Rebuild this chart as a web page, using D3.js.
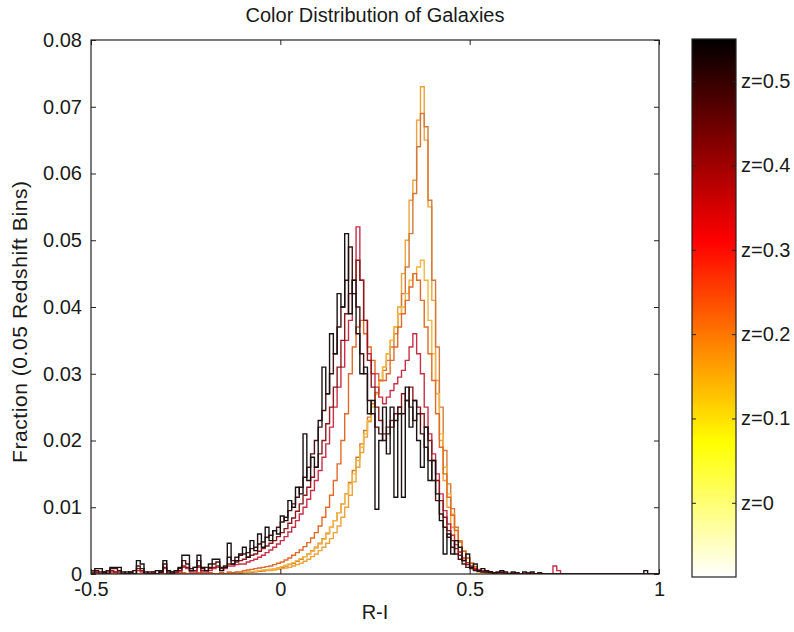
<!DOCTYPE html>
<html>
<head>
<meta charset="utf-8">
<script src="https://cdn.jsdelivr.net/npm/d3@7"></script>
<style>
  body { margin: 0; background: #fff; }
  svg { display: block; }
  text { font-family: "Liberation Sans", Arial, Helvetica, sans-serif; fill: #1a1a1a; }
</style>
</head>
<body>
<svg id="chart" width="794" height="632"></svg>
<script>
// Histogram bins: 0.01 wide in R-I, starting at -0.50 (150 bins up to 1.00)
const binStart = -0.5;
const binWidth = 0.01;

// Axis tick values
const xTicks = [-0.5, 0, 0.5, 1];
const yTicks = [0, 0.01, 0.02, 0.03, 0.04, 0.05, 0.06, 0.07, 0.08];

// Colorbar: redshift range and labelled ticks
const zRange = [-0.088, 0.55];
const zTicks = [0, 0.1, 0.2, 0.3, 0.4, 0.5];
const zLabels = ["z=0", "z=0.1", "z=0.2", "z=0.3", "z=0.4", "z=0.5"];

// Line colour of each redshift slice (low z first, drawn first)
const seriesColors = ["#eea23a", "#d27a3c", "#f0b840", "#e06a2a", "#c8304a", "#8c1a1c", "#4a1414", "#1a1212"];

// Fraction of galaxies per R-I bin, one array per 0.05 redshift slice
const sliceA = [
  0,0,0,0,0,0,0,0,0,0,
  0,0,0,0,0,0,0,0,0,0,
  0,0,0,0,0,0,0,0,0,0,
  0,0,0,0,0,0,0,0,.0002,0,
  .0002,.0002,.0003,.0003,.0004,.0004,.0005,.0005,.0006,.0007,
  .0008,.0009,.0010,.0012,.0014,.0016,.0019,.0022,.0026,.0030,
  .0035,.0040,.0046,.0053,.0062,.0072,.0085,.0100,.0118,.0138,
  .0160,.0182,.0205,.0228,.0250,.0270,.0290,.0310,.0330,.0350,
  .0370,.0400,.0450,.0500,.0560,.0590,.0680,.0730,.0650,.0550,
  .0410,.0290,.0200,.0140,.0100,.0070,.0050,.0033,.0021,.0015,
  .0010,.0006,.0003,.0002,.0001,0,0,.0002,0,0,
  0,0,0,0,0,0,0,0,0,0,
  0,0,0,0,0,0,0,0,0,0,
  0,0,0,0,0,0,0,0,0,0,
  0,0,0,0,0,0,0,0,0,0
];
const sliceB = [
  0,0,0,0,0,0,0,0,0,0,
  0,0,0,0,0,0,0,0,0,0,
  0,0,0,0,0,0,0,0,0,0,
  0,0,0,0,.0002,0,0,0,.0002,0,
  .0002,.0003,.0003,.0004,.0004,.0005,.0006,.0007,.0008,.0009,
  .0010,.0012,.0014,.0016,.0019,.0022,.0026,.0030,.0035,.0040,
  .0046,.0053,.0061,.0070,.0080,.0092,.0105,.0120,.0137,.0155,
  .0175,.0195,.0215,.0235,.0255,.0272,.0290,.0305,.0320,.0340,
  .0360,.0390,.0420,.0460,.0510,.0570,.0640,.0690,.0670,.0560,
  .0440,.0340,.0250,.0185,.0135,.0098,.0070,.0050,.0034,.0024,
  .0016,.0010,.0006,.0004,.0003,.0002,.0002,.0001,.0002,0,
  0,.0002,0,0,0,0,.0002,0,0,0,
  0,0,0,0,0,0,0,0,0,0,
  0,0,0,0,0,0,0,0,0,0,
  0,0,0,0,0,0,0,0,0,0
];
const sliceC = [
  0,0,0,0,0,0,0,0,0,0,
  0,0,0,0,0,0,0,0,0,0,
  0,0,0,0,0,0,0,0,0,0,
  0,0,0,0,0,0,.0002,0,0,.0002,
  .0003,.0003,.0004,.0004,.0005,.0006,.0006,.0007,.0008,.0009,
  .0011,.0013,.0015,.0017,.0020,.0023,.0026,.0030,.0034,.0039,
  .0045,.0052,.0060,.0070,.0080,.0092,.0105,.0120,.0135,.0150,
  .0170,.0190,.0210,.0230,.0250,.0270,.0290,.0310,.0330,.0350,
  .0370,.0390,.0400,.0420,.0440,.0450,.0460,.0470,.0440,.0380,
  .0330,.0270,.0210,.0160,.0120,.0090,.0066,.0048,.0034,.0024,
  .0016,.0010,.0006,.0004,.0003,.0002,.0002,.0001,.0001,0,
  0,0,0,0,0,0,0,0,0,0,
  0,0,0,0,0,0,0,0,0,0,
  0,0,0,0,0,0,0,0,0,0,
  0,0,0,0,0,0,0,0,0,0
];
const sliceD = [
  0,0,0,0,0,0,0,0,0,0,
  0,0,0,0,0,0,0,0,0,0,
  0,0,0,0,.0002,0,0,0,.0002,0,
  0,.0002,0,0,.0002,0,.0003,.0002,.0003,.0003,
  .0005,.0006,.0007,.0008,.0009,.0010,.0011,.0012,.0014,.0016,
  .0018,.0021,.0024,.0028,.0032,.0036,.0041,.0047,.0054,.0062,
  .0072,.0085,.0100,.0118,.0140,.0165,.0200,.0240,.0300,.0340,
  .0370,.0380,.0360,.0340,.0320,.0300,.0290,.0290,.0300,.0320,
  .0340,.0370,.0390,.0410,.0430,.0450,.0440,.0410,.0370,.0330,
  .0290,.0240,.0190,.0150,.0115,.0088,.0065,.0048,.0034,.0024,
  .0016,.0011,.0007,.0005,.0004,.0003,.0002,.0002,.0002,.0001,
  .0001,0,0,0,0,.0002,0,0,0,0,
  0,0,0,0,0,0,0,0,0,0,
  0,0,0,0,0,0,0,0,0,0,
  0,0,0,0,0,0,0,0,0,0
];
const sliceE = [
  .0002,.0002,0,.0002,0,.0003,.0003,0,0,0,
  0,0,.0005,.0003,0,0,0,0,.0002,.0008,
  0,0,.0002,.0003,.0010,.0008,.0003,.0003,.0010,.0003,
  .0003,.0005,.0008,.0010,.0005,.0008,.0012,.0012,.0014,.0015,
  .0015,.0018,.0020,.0022,.0025,.0028,.0032,.0036,.0040,.0045,
  .0050,.0056,.0063,.0070,.0080,.0090,.0100,.0112,.0125,.0140,
  .0155,.0175,.0195,.0220,.0250,.0280,.0310,.0350,.0380,.0420,
  .0520,.0440,.0380,.0330,.0300,.0280,.0265,.0255,.0265,.0275,
  .0285,.0295,.0305,.0320,.0340,.0360,.0330,.0300,.0250,.0210,
  .0180,.0150,.0120,.0095,.0075,.0058,.0044,.0033,.0024,.0017,
  .0012,.0008,.0006,.0005,.0004,.0003,.0002,.0002,.0001,.0001,
  0,0,0,0,0,0,0,0,0,0,
  0,0,.0012,.0005,0,0,0,0,0,0,
  0,0,0,0,0,0,0,0,0,0,
  0,0,0,0,0,0,0,0,0,0
];
const sliceF = [
  .0003,.0003,0,.0003,.0003,.0005,.0003,.0003,0,0,
  .0003,0,.0008,.0005,0,0,.0003,0,.0003,.0010,
  0,.0003,.0003,.0005,.0012,.0010,.0005,.0005,.0012,.0005,
  .0005,.0008,.0010,.0012,.0008,.0010,.0015,.0015,.0018,.0020,
  .0022,.0025,.0028,.0030,.0034,.0038,.0042,.0046,.0050,.0056,
  .0062,.0068,.0076,.0084,.0094,.0105,.0118,.0130,.0145,.0160,
  .0180,.0200,.0225,.0250,.0280,.0310,.0350,.0390,.0420,.0440,
  .0470,.0440,.0380,.0320,.0280,.0250,.0230,.0210,.0220,.0230,
  .0240,.0250,.0270,.0260,.0280,.0260,.0250,.0240,.0220,.0200,
  .0170,.0140,.0110,.0085,.0065,.0050,.0038,.0028,.0020,.0014,
  .0010,.0007,.0005,.0004,.0003,.0003,.0002,.0002,.0002,.0001,
  .0001,0,.0002,0,0,.0002,0,0,0,0,
  0,0,0,0,0,0,0,0,0,0,
  0,0,0,0,0,0,0,0,0,0,
  0,0,0,0,0,0,0,0,0,0
];
const sliceG = [
  .0005,.0005,.0003,0,.0005,.0008,.0008,.0005,0,.0003,
  0,.0005,.0012,.0008,0,.0003,.0003,0,.0005,.0015,
  .0003,.0003,.0005,.0008,.0020,.0015,.0008,.0010,.0020,.0008,
  .0010,.0010,.0015,.0018,.0010,.0012,.0025,.0020,.0025,.0028,
  .0030,.0032,.0038,.0040,.0045,.0048,.0055,.0058,.0065,.0070,
  .0078,.0085,.0095,.0105,.0115,.0130,.0145,.0160,.0180,.0200,
  .0220,.0245,.0270,.0300,.0330,.0370,.0400,.0440,.0490,.0420,
  .0400,.0330,.0300,.0260,.0240,.0220,.0210,.0200,.0210,.0220,
  .0230,.0250,.0240,.0260,.0250,.0230,.0240,.0210,.0190,.0170,
  .0140,.0110,.0090,.0070,.0055,.0040,.0030,.0022,.0015,.0010,
  .0008,.0005,.0004,.0003,.0003,.0002,.0002,.0002,.0003,0,
  0,0,.0002,0,0,0,0,0,.0002,0,
  0,0,0,0,0,0,0,0,0,0,
  0,0,0,0,0,0,0,0,0,0,
  0,0,0,0,0,0,0,0,0,0
];
const sliceH = [
  0,.0008,.0008,.0003,0,.0010,.0010,.0010,.0003,0,
  .0003,0,.0020,.0015,.0003,0,0,.0005,.0003,.0020,
  .0005,0,.0005,.0010,.0028,.0028,.0005,.0010,.0028,.0010,
  .0005,.0015,.0022,.0022,.0005,.0010,.0046,.0015,.0020,.0030,
  .0040,.0025,.0050,.0035,.0060,.0040,.0070,.0050,.0065,.0060,
  .0087,.0080,.0110,.0100,.0130,.0120,.0210,.0140,.0175,.0160,
  .0230,.0310,.0270,.0360,.0330,.0420,.0400,.0510,.0390,.0440,
  .0360,.0300,.0310,.0240,.0260,.0097,.0200,.0250,.0180,.0250,
  .0115,.0240,.0115,.0280,.0220,.0260,.0200,.0160,.0220,.0140,
  .0170,.0120,.0080,.0030,.0060,.0030,.0050,.0040,.0020,.0030,
  .0010,.0015,.0005,.0008,.0005,.0003,0,.0003,.0005,.0003,
  0,.0003,0,0,.0003,0,.0003,0,0,0,
  0,0,0,0,0,0,0,0,0,0,
  0,0,0,0,0,0,0,0,0,0,
  0,0,0,0,0,0,.0005,0,0,0
];
const slices = [sliceA, sliceB, sliceC, sliceD, sliceE, sliceF, sliceG, sliceH];

// ---- layout ----
const plot = { left: 91, right: 659, top: 40, bottom: 574 };
const cbar = { left: 692, right: 736, top: 39, bottom: 577 };

const svg = d3.select("#chart");
const x = d3.scaleLinear().domain([-0.5, 1]).range([plot.left, plot.right]);
const y = d3.scaleLinear().domain([0, 0.08]).range([plot.bottom, plot.top]);

svg.append("defs").append("clipPath").attr("id", "plotClip")
  .append("rect")
  .attr("x", plot.left).attr("y", plot.top - 1)
  .attr("width", plot.right - plot.left).attr("height", plot.bottom - plot.top + 1);

// step outlines of each histogram
const stairs = d3.line()
  .x(d => x(d[0]))
  .y(d => y(d[1]))
  .curve(d3.curveStepAfter);

const lines = svg.append("g").attr("clip-path", "url(#plotClip)");
slices.forEach((vals, k) => {
  const pts = vals.map((v, i) => [binStart + i * binWidth, v]);
  pts.push([binStart + vals.length * binWidth, vals[vals.length - 1]]);
  lines.append("path")
    .attr("d", stairs(pts))
    .attr("fill", "none")
    .attr("stroke", seriesColors[k])
    .attr("stroke-width", 1.4)
    .attr("stroke-linejoin", "miter");
});

// axes box with inward ticks on all four sides
const tickLen = 5;
const fmtY = d3.format(".2f");

const gx = svg.append("g").attr("transform", `translate(0,${plot.bottom})`)
  .call(d3.axisBottom(x).tickValues(xTicks).tickFormat(d => String(d))
    .tickSizeInner(-tickLen).tickSizeOuter(0).tickPadding(8));
const gxTop = svg.append("g").attr("transform", `translate(0,${plot.top})`)
  .call(d3.axisTop(x).tickValues(xTicks).tickFormat("")
    .tickSizeInner(-tickLen).tickSizeOuter(0));
const gy = svg.append("g").attr("transform", `translate(${plot.left},0)`)
  .call(d3.axisLeft(y).tickValues(yTicks).tickFormat(d => d === 0 ? "0" : fmtY(d))
    .tickSizeInner(-tickLen).tickSizeOuter(0).tickPadding(9));
const gyRight = svg.append("g").attr("transform", `translate(${plot.right},0)`)
  .call(d3.axisRight(y).tickValues(yTicks).tickFormat("")
    .tickSizeInner(-tickLen).tickSizeOuter(0));

[gx, gxTop, gy, gyRight].forEach(g => {
  g.select(".domain").remove();
  g.selectAll(".tick line").attr("stroke", "#222").attr("stroke-width", 1);
  g.selectAll(".tick text").attr("font-size", 20).attr("fill", "#1a1a1a");
});

svg.append("rect")
  .attr("x", plot.left).attr("y", plot.top)
  .attr("width", plot.right - plot.left).attr("height", plot.bottom - plot.top)
  .attr("fill", "none").attr("stroke", "#222").attr("stroke-width", 1.2);

// titles
svg.append("text")
  .attr("x", (plot.left + plot.right) / 2).attr("y", 22)
  .attr("text-anchor", "middle").attr("font-size", 20)
  .text("Color Distribution of Galaxies");
svg.append("text")
  .attr("x", (plot.left + plot.right) / 2).attr("y", 619)
  .attr("text-anchor", "middle").attr("font-size", 20)
  .text("R-I");
svg.append("text")
  .attr("transform", `translate(27,322) rotate(-90)`)
  .attr("text-anchor", "middle").attr("font-size", 21)
  .attr("textLength", 282).attr("lengthAdjust", "spacing")
  .text("Fraction (0.05 Redshift Bins)");

// ---- colorbar (inverted "hot" colormap: white at low z, black at high z) ----
function hot(t) {
  const r = Math.min(1, t / 0.375);
  const g = Math.max(0, Math.min(1, (t - 0.375) / 0.375));
  const b = Math.max(0, Math.min(1, (t - 0.75) / 0.25));
  return d3.rgb(r * 255, g * 255, b * 255).formatHex();
}
const grad = svg.select("defs").append("linearGradient")
  .attr("id", "hotGrad").attr("x1", 0).attr("y1", 0).attr("x2", 0).attr("y2", 1);
d3.range(0, 65).forEach(i => {
  const t = i / 64;
  grad.append("stop").attr("offset", t).attr("stop-color", hot(t));
});

const zScale = d3.scaleLinear().domain(zRange).range([cbar.bottom, cbar.top]);
svg.append("rect")
  .attr("x", cbar.left).attr("y", cbar.top)
  .attr("width", cbar.right - cbar.left).attr("height", cbar.bottom - cbar.top)
  .attr("fill", "url(#hotGrad)");

const gzR = svg.append("g").attr("transform", `translate(${cbar.right},0)`)
  .call(d3.axisRight(zScale).tickValues(zTicks).tickFormat((d, i) => zLabels[i])
    .tickSizeInner(-4).tickSizeOuter(0).tickPadding(5));
const gzL = svg.append("g").attr("transform", `translate(${cbar.left},0)`)
  .call(d3.axisLeft(zScale).tickValues(zTicks).tickFormat("")
    .tickSizeInner(-4).tickSizeOuter(0));
[gzR, gzL].forEach(g => {
  g.select(".domain").remove();
  g.selectAll(".tick line").attr("stroke", "#222");
  g.selectAll(".tick text").attr("font-size", 20).attr("fill", "#1a1a1a");
});
svg.append("rect")
  .attr("x", cbar.left).attr("y", cbar.top)
  .attr("width", cbar.right - cbar.left).attr("height", cbar.bottom - cbar.top)
  .attr("fill", "none").attr("stroke", "#222").attr("stroke-width", 1.2);
</script>
</body>
</html>
